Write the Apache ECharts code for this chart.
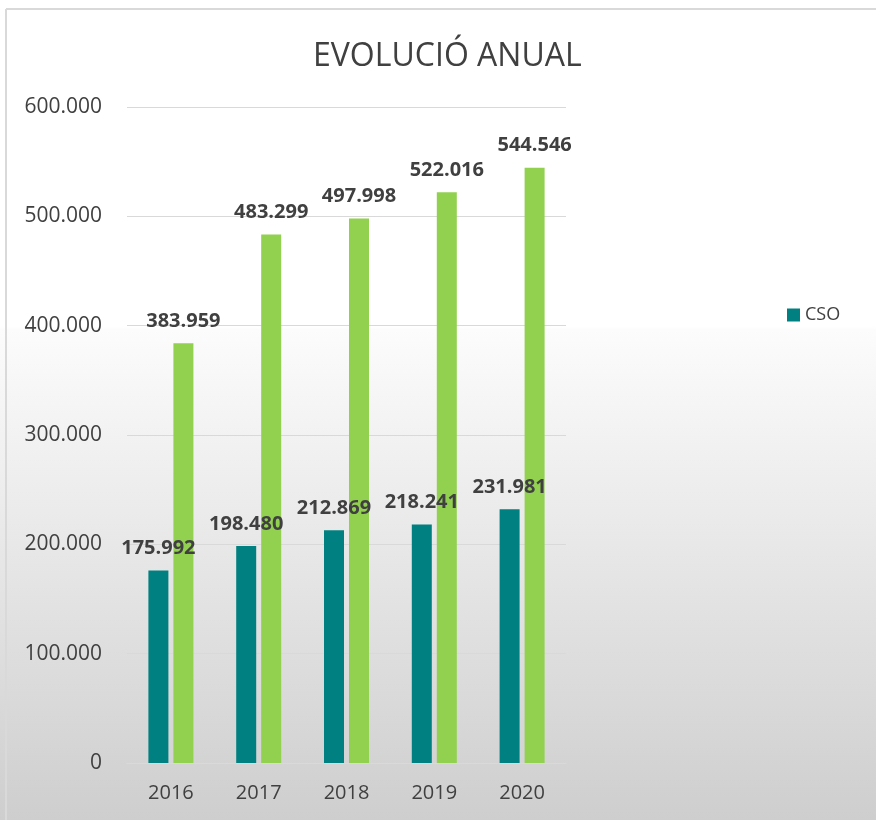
<!DOCTYPE html>
<html>
<head>
<meta charset="utf-8">
<script src="https://cdn.jsdelivr.net/npm/echarts@6/dist/echarts.min.js"></script>
<style>
html,body{margin:0;padding:0;background:#fff;}
#chart{width:876px;height:820px;}
</style>
</head>
<body>
<div id="chart"></div>
<script>
const categories = ['2016', '2017', '2018', '2019', '2020'];
const csoValues = [175992, 198480, 212869, 218241, 231981];
const secondValues = [383959, 483299, 497998, 522016, 544546];
const yTicks = [0, 100000, 200000, 300000, 400000, 500000, 600000];
const titleText = 'EVOLUCIÓ ANUAL';
const legendNames = ['CSO'];

function fmt(v) {
  return String(Math.round(v)).replace(/\B(?=(\d{3})+(?!\d))/g, '.');
}

const FONT = '"Open Sans", "Noto Sans", sans-serif';
const chart = echarts.init(document.getElementById('chart'), null, {renderer: 'canvas'});

const labelCfg = {
  show: true,
  position: 'top',
  distance: 12,
  fontFamily: FONT,
  fontSize: 20,
  fontWeight: 'bold',
  color: '#404040',
  formatter: p => fmt(p.value)
};

chart.setOption({
  animation: false,
  backgroundColor: {
    type: 'linear', x: 0, y: 0, x2: 0, y2: 1,
    colorStops: [
      {offset: 0, color: '#ffffff'},
      {offset: 0.398, color: '#ffffff'},
      {offset: 0.402, color: '#fcfcfc'},
      {offset: 1, color: '#cecece'}
    ]
  },
  graphic: [
    {type: 'line', shape: {x1: 6, y1: 9, x2: 876, y2: 9}, style: {stroke: '#d9d9d9', lineWidth: 2}, silent: true},
    {type: 'line', shape: {x1: 6, y1: 9, x2: 6, y2: 820}, style: {stroke: '#d9d9d9', lineWidth: 2}, silent: true}
  ],
  title: {
    text: titleText,
    left: 308,
    top: 36,
    textStyle: {fontFamily: FONT, fontSize: 32, fontWeight: 'normal', color: '#404040'}
  },
  legend: {
    data: legendNames,
    left: 782,
    top: 301,
    itemWidth: 13,
    itemHeight: 13,
    itemGap: 10,
    icon: 'rect',
    textStyle: {fontFamily: FONT, fontSize: 18, color: '#404040'}
  },
  grid: {left: 127, right: 310, top: 107, bottom: 57, containLabel: false},
  xAxis: {
    type: 'category',
    data: categories,
    axisLine: {show: true, lineStyle: {color: '#d9d9d9', width: 1}},
    axisTick: {show: false},
    axisLabel: {fontFamily: FONT, fontSize: 20, color: '#404040', margin: 20}
  },
  yAxis: {
    type: 'value',
    min: yTicks[0],
    max: yTicks[yTicks.length - 1],
    interval: yTicks[1] - yTicks[0],
    axisLine: {show: false},
    axisTick: {show: false},
    splitLine: {lineStyle: {color: '#d9d9d9', width: 1}},
    axisLabel: {fontFamily: FONT, fontSize: 21, color: '#404040', margin: 25, formatter: v => fmt(v)}
  },
  series: [
    {
      name: 'CSO',
      type: 'bar',
      data: csoValues,
      barWidth: 20,
      barGap: '25%',
      itemStyle: {color: '#008080'},
      label: labelCfg
    },
    {
      name: 'Total',
      type: 'bar',
      data: secondValues,
      barWidth: 20,
      itemStyle: {color: '#92d050'},
      label: labelCfg
    }
  ]
});
</script>
</body>
</html>
